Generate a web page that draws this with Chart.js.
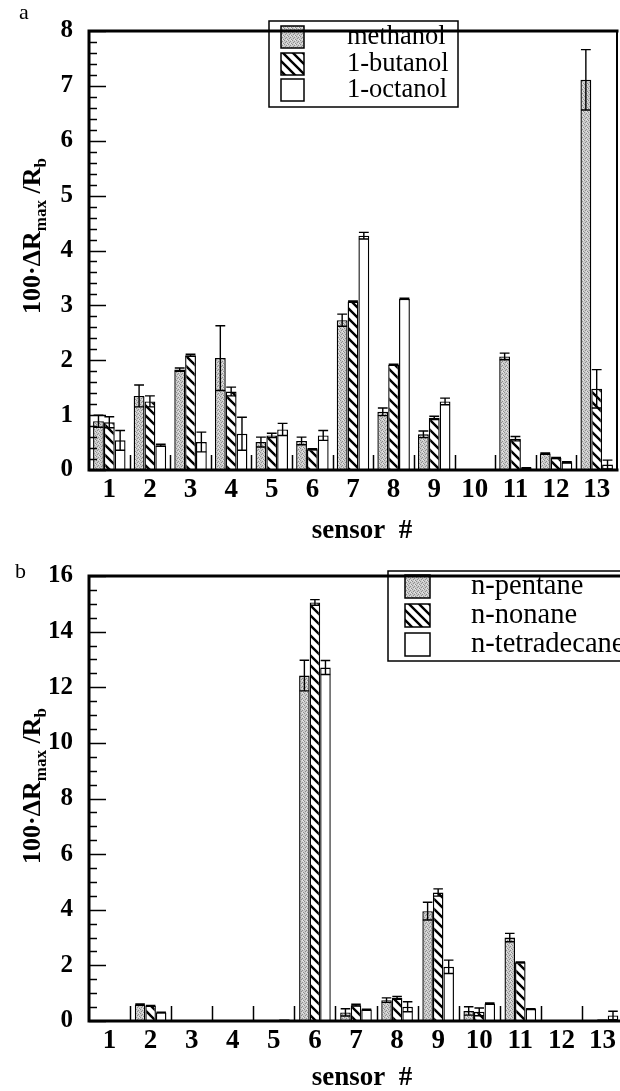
<!DOCTYPE html>
<html>
<head>
<meta charset="utf-8">
<script src="https://cdn.jsdelivr.net/npm/chart.js@4.4.0/dist/chart.umd.min.js"></script>
<style>
  html, body { margin:0; padding:0; background:#fff; width:620px; height:1091px; overflow:hidden; }
  .wrap { position:absolute; left:0; }
  canvas { display:block; }
</style>
</head>
<body>
<div class="wrap" style="top:0"><canvas id="cA" width="640" height="545"></canvas></div>
<div class="wrap" style="top:545px"><canvas id="cB" width="640" height="546"></canvas></div>
<script>
// ---------- data ----------
const sensors = ['1','2','3','4','5','6','7','8','9','10','11','12','13'];

// panel a
const alcoholNames = ['methanol', '1-butanol', '1-octanol'];
const methanol    = [0.89, 1.35, 1.83, 2.04, 0.51, 0.53, 2.73, 1.06, 0.65, 0, 2.07, 0.30, 7.11];
const methanolErr = [0.11, 0.20, 0.03, 0.59, 0.09, 0.07, 0.11, 0.07, 0.06, 0, 0.06, 0.01, 0.55];
const butanol     = [0.87, 1.25, 2.09, 1.43, 0.63, 0.38, 3.07, 1.92, 0.95, 0, 0.57, 0.22, 1.48];
const butanolErr  = [0.10, 0.10, 0.02, 0.08, 0.04, 0.01, 0.01, 0.01, 0.03, 0, 0.04, 0.01, 0.35];
const octanol     = [0.54, 0.45, 0.51, 0.66, 0.74, 0.63, 4.27, 3.12, 1.25, 0, 0.03, 0.14, 0.10];
const octanolErr  = [0.18, 0.02, 0.18, 0.30, 0.11, 0.09, 0.06, 0.01, 0.06, 0, 0.01, 0.01, 0.08];

// panel b
const alkaneNames = ['n-pentane', 'n-nonane', 'n-tetradecane'];
const pentane     = [0, 0.59, 0, 0, 0.02, 12.42, 0.31, 0.75, 3.95, 0.36, 3.00, 0, 0.02];
const pentaneErr  = [0, 0.02, 0, 0, 0,    0.55,  0.13, 0.08, 0.32, 0.15, 0.15, 0, 0];
const nonane      = [0, 0.55, 0, 0, 0.04, 15.05, 0.57, 0.83, 4.62, 0.33, 2.11, 0, 0.06];
const nonaneErr   = [0, 0.01, 0, 0, 0,    0.10,  0.03, 0.05, 0.13, 0.14, 0.01, 0, 0];
const tetradecane = [0, 0.31, 0, 0, 0.06, 12.71, 0.41, 0.51, 1.95, 0.63, 0.43, 0, 0.20];
const tetraErr    = [0, 0.01, 0, 0, 0,    0.25,  0.01, 0.18, 0.24, 0.02, 0.01, 0, 0.15];

const yTicksA = [0,1,2,3,4,5,6,7,8];
const yTicksB = [0,2,4,6,8,10,12,14,16];

// ---------- styles ----------
const SERIF = "'Liberation Serif', 'Times New Roman', serif";

function stipple(ctx) {
  const c = document.createElement('canvas'); c.width = 4; c.height = 4;
  const g = c.getContext('2d');
  g.fillStyle = '#cbcbcb'; g.fillRect(0,0,4,4);
  g.fillStyle = '#8e8e8e';
  [[0,0],[2,1],[1,2],[3,3]].forEach(p => g.fillRect(p[0],p[1],1,1));
  g.fillStyle = '#e6e6e6';
  [[2,3],[3,0]].forEach(p => g.fillRect(p[0],p[1],1,1));
  return ctx.createPattern(c, 'repeat');
}
function hatch(ctx) {
  const s = 10;
  const c = document.createElement('canvas'); c.width = s; c.height = s;
  const g = c.getContext('2d');
  g.fillStyle = '#fff'; g.fillRect(0,0,s,s);
  g.strokeStyle = '#000'; g.lineWidth = 2.4;
  g.beginPath();
  g.moveTo(-2,-2); g.lineTo(s+2,s+2);
  g.moveTo(-2,s-2); g.lineTo(2,s+2);
  g.moveTo(s-2,-2); g.lineTo(s+2,2);
  g.stroke();
  return ctx.createPattern(c, 'repeat');
}

function drawYTitle(ctx, cx, cy) {
  const main = 'bold 26px ' + SERIF, sub = 'bold 17px ' + SERIF;
  const segs = [
    {t:'100·ΔR', f:main, dy:0},
    {t:'max', f:sub, dy:6},
    {t:' /R', f:main, dy:0},
    {t:'b', f:sub, dy:6}
  ];
  ctx.save();
  ctx.translate(cx, cy);
  ctx.rotate(-Math.PI/2);
  ctx.fillStyle = '#000';
  ctx.textBaseline = 'alphabetic';
  ctx.textAlign = 'left';
  let total = 0;
  segs.forEach(s => { ctx.font = s.f; s.w = ctx.measureText(s.t).width; total += s.w; });
  let x = -total/2;
  segs.forEach(s => { ctx.font = s.f; ctx.fillText(s.t, x, 8 + s.dy); x += s.w; });
  ctx.restore();
}

function makeChart(id, cfg) {
  const canvas = document.getElementById(id);
  const ctx = canvas.getContext('2d');
  const fills = [stipple(ctx), hatch(ctx), '#ffffff'];

  const overlay = {
    id: 'overlay_' + id,
    afterDatasetsDraw(chart) {
      const c = chart.ctx, y = chart.scales.y;
      c.save();
      c.strokeStyle = '#000'; c.lineWidth = 1.4;
      cfg.errors.forEach((errs, di) => {
        const meta = chart.getDatasetMeta(di);
        meta.data.forEach((el, j) => {
          const e = errs[j], v = cfg.series[di][j];
          if (!e) return;
          const yt = y.getPixelForValue(v + e), yb = y.getPixelForValue(Math.max(0, v - e));
          const hw = el.width / 2 - 0.5;
          c.beginPath();
          c.moveTo(el.x, yt); c.lineTo(el.x, yb);
          c.moveTo(el.x - hw, yt); c.lineTo(el.x + hw, yt);
          c.moveTo(el.x - hw, yb); c.lineTo(el.x + hw, yb);
          c.stroke();
        });
      });
      c.restore();
    },
    afterDraw(chart) {
      const c = chart.ctx, a = chart.chartArea, x = chart.scales.x, y = chart.scales.y;
      c.save();
      c.strokeStyle = '#000';
      // inner y ticks
      c.lineWidth = 1.5;
      for (let k = 0; k <= Math.round(cfg.max / cfg.minor); k++) {
        const v = k * cfg.minor;
        const major = Math.abs(v / cfg.major - Math.round(v / cfg.major)) < 1e-6;
        const py = Math.round(y.getPixelForValue(v)) + 0.5;
        c.beginPath(); c.moveTo(a.left, py); c.lineTo(a.left + (major ? 17 : 8), py); c.stroke();
      }
      // group separators
      c.lineWidth = 1.5;
      for (let i = 0; i < sensors.length - 1; i++) {
        const px = Math.round((x.getPixelForValue(i) + x.getPixelForValue(i + 1)) / 2) + 0.5;
        c.beginPath(); c.moveTo(px, a.bottom); c.lineTo(px, a.bottom - 15); c.stroke();
      }
      // legend
      const L = cfg.legend;
      c.fillStyle = '#fff';
      c.fillRect(L.x, L.y, L.w, L.h);
      c.lineWidth = 1.5;
      c.strokeRect(L.x, L.y, L.w, L.h);
      c.font = L.font; c.textBaseline = 'middle'; c.textAlign = 'left';
      cfg.names.forEach((n, i) => {
        const sy = L.rows[i];
        c.fillStyle = fills[i];
        c.fillRect(L.sx, sy, L.sw, L.sh);
        c.lineWidth = 1.5;
        c.strokeRect(L.sx, sy, L.sw, L.sh);
        c.fillStyle = '#000';
        c.fillText(n, L.tx, sy + L.sh / 2);
      });
      // frame
      c.lineCap = 'square';
      c.lineWidth = 3;
      c.beginPath();
      c.moveTo(a.left, a.top); c.lineTo(a.right, a.top);
      c.moveTo(a.left, a.top); c.lineTo(a.left, a.bottom);
      c.moveTo(a.left, a.bottom); c.lineTo(a.right, a.bottom);
      c.stroke();
      c.lineWidth = 2;
      c.beginPath(); c.moveTo(a.right, a.top); c.lineTo(a.right, a.bottom); c.stroke();
      // titles
      c.fillStyle = '#000';
      c.font = 'bold 27px ' + SERIF; c.textAlign = 'center'; c.textBaseline = 'middle';
      c.fillText('sensor  #', cfg.xTitle.x, cfg.xTitle.y);
      drawYTitle(c, 32, cfg.yTitleY);
      c.font = '22px ' + SERIF; c.textAlign = 'left'; c.textBaseline = 'middle';
      c.fillText(cfg.panel, cfg.panelPos.x, cfg.panelPos.y);
      c.restore();
    }
  };

  return new Chart(ctx, {
    type: 'bar',
    data: {
      labels: sensors,
      datasets: cfg.series.map((s, i) => ({
        label: cfg.names[i],
        data: s,
        backgroundColor: fills[i],
        borderColor: '#000',
        borderWidth: 1.4,
        categoryPercentage: cfg.catPct,
        barPercentage: 1.0
      }))
    },
    options: {
      responsive: false,
      animation: false,
      devicePixelRatio: 1,
      layout: { padding: cfg.padding },
      plugins: { legend: { display: false }, tooltip: { enabled: false } },
      scales: {
        x: {
          grid: { display: false, drawTicks: false },
          border: { display: false },
          ticks: { autoSkip: false, maxRotation: 0, padding: 4, color: '#000',
                   font: { family: SERIF, size: 27, weight: 'bold' } },
          afterFit: s => { s.height = cfg.xHeight; }
        },
        y: {
          min: 0, max: cfg.max,
          afterBuildTicks: s => { s.ticks = cfg.yTicks.map(v => ({ value: v })); },
          grid: { display: false, drawTicks: false },
          border: { display: false },
          ticks: { padding: 16, color: '#000', font: { family: SERIF, size: 25, weight: 'bold' } },
          afterFit: s => { s.width = 89; }
        }
      }
    },
    plugins: [overlay]
  });
}

makeChart('cA', {
  series: [methanol, butanol, octanol],
  errors: [methanolErr, butanolErr, octanolErr],
  names: alcoholNames,
  max: 8, major: 1, minor: 0.2, yTicks: yTicksA,
  catPct: 0.8,
  padding: { left: 0, top: 21, right: 23, bottom: 0 },
  xHeight: 75,
  legend: { x: 269, y: 21, w: 189, h: 86, sx: 281, sw: 23, sh: 22, rows: [26, 53, 79], tx: 347,
            font: '26.5px ' + SERIF },
  xTitle: { x: 362, y: 531 },
  yTitleY: 236,
  panel: 'a', panelPos: { x: 19, y: 13 }
});

makeChart('cB', {
  series: [pentane, nonane, tetradecane],
  errors: [pentaneErr, nonaneErr, tetraErr],
  names: alkaneNames,
  max: 16, major: 2, minor: 0.5, yTicks: yTicksB,
  catPct: 0.77,
  padding: { left: 0, top: 26, right: 17, bottom: 0 },
  xHeight: 70,
  legend: { x: 388, y: 26, w: 260, h: 90, sx: 405, sw: 25, sh: 23, rows: [30, 59, 88], tx: 471,
            font: '28.5px ' + SERIF },
  xTitle: { x: 362, y: 533 },
  yTitleY: 241,
  panel: 'b', panelPos: { x: 15, y: 27 }
});
</script>
</body>
</html>
